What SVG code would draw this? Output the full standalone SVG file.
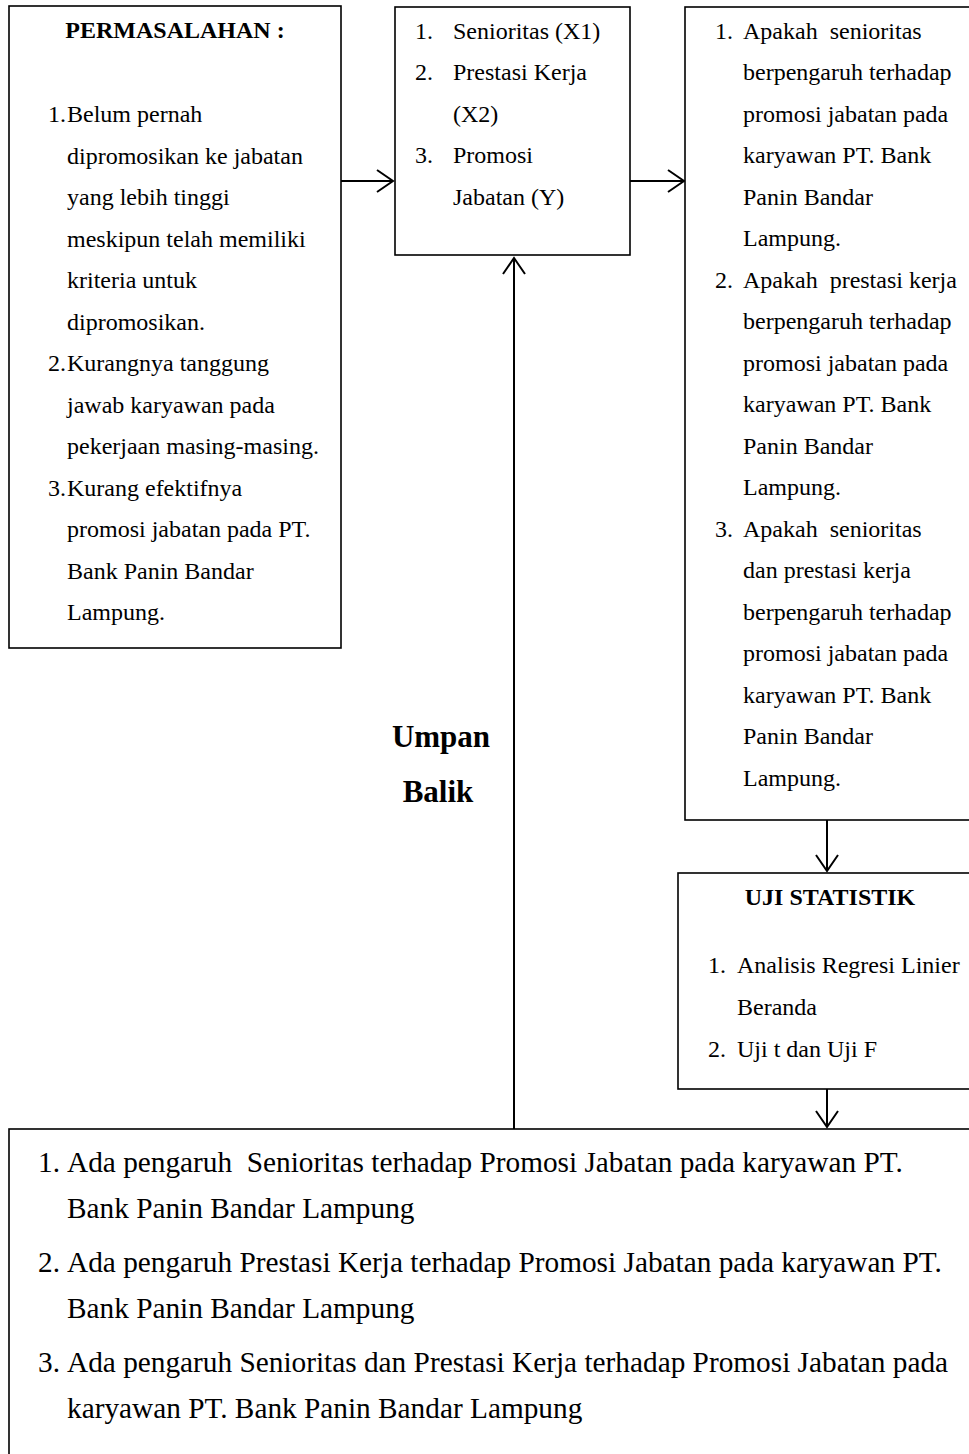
<svg xmlns="http://www.w3.org/2000/svg" width="969" height="1454" viewBox="0 0 969 1454">
<style>
.box{fill:#fff;stroke:#000;stroke-width:1.6}
.t{font-family:"Liberation Serif","Times New Roman",serif;font-size:24px;fill:#000;white-space:pre}
.b{font-family:"Liberation Serif","Times New Roman",serif;font-size:24px;font-weight:bold;fill:#000}
.big{font-family:"Liberation Serif","Times New Roman",serif;font-size:29.3px;fill:#000;white-space:pre}
.ub{font-family:"Liberation Serif","Times New Roman",serif;font-size:31px;font-weight:bold;fill:#000}
.c{stroke:#000;stroke-width:2;fill:none}
</style>
<defs>
<marker id="ah" viewBox="0 0 20 24" refX="18" refY="12" markerWidth="20" markerHeight="24" orient="auto" markerUnits="userSpaceOnUse">
<path d="M2,1 L18,12 L2,23" fill="none" stroke="#000" stroke-width="2"/>
</marker>
</defs>
<rect width="969" height="1454" fill="#fff"/>

<g id="connectors">
<line class="c" x1="341" y1="181" x2="393" y2="181" marker-end="url(#ah)"/>
<line class="c" x1="630" y1="181" x2="684" y2="181" marker-end="url(#ah)"/>
<line class="c" x1="514" y1="1129" x2="514" y2="258" marker-end="url(#ah)"/>
<line class="c" x1="827" y1="820" x2="827" y2="871" marker-end="url(#ah)"/>
<line class="c" x1="827" y1="1089" x2="827" y2="1127" marker-end="url(#ah)"/>
</g>

<g id="permasalahan">
<rect class="box" x="9" y="6" width="332" height="642"/>
<text class="b" x="175" y="38" text-anchor="middle">PERMASALAHAN :</text>
<text class="t" x="48" y="122">1.</text>
<text class="t" x="67" y="122">Belum pernah</text>
<text class="t" x="67" y="163.5">dipromosikan ke jabatan</text>
<text class="t" x="67" y="205">yang lebih tinggi</text>
<text class="t" x="67" y="246.5">meskipun telah memiliki</text>
<text class="t" x="67" y="288">kriteria untuk</text>
<text class="t" x="67" y="329.5">dipromosikan.</text>
<text class="t" x="48" y="371">2.</text>
<text class="t" x="67" y="371">Kurangnya tanggung</text>
<text class="t" x="67" y="412.5">jawab karyawan pada</text>
<text class="t" x="67" y="454">pekerjaan masing-masing.</text>
<text class="t" x="48" y="495.5">3.</text>
<text class="t" x="67" y="495.5">Kurang efektifnya</text>
<text class="t" x="67" y="537">promosi jabatan pada PT.</text>
<text class="t" x="67" y="578.5">Bank Panin Bandar</text>
<text class="t" x="67" y="620">Lampung.</text>
</g>

<g id="variabel">
<rect class="box" x="395" y="7" width="235" height="248"/>
<text class="t" x="415" y="38.5">1.</text>
<text class="t" x="453" y="38.5">Senioritas (X1)</text>
<text class="t" x="415" y="80">2.</text>
<text class="t" x="453" y="80">Prestasi Kerja</text>
<text class="t" x="453" y="121.5">(X2)</text>
<text class="t" x="415" y="163">3.</text>
<text class="t" x="453" y="163">Promosi</text>
<text class="t" x="453" y="204.5">Jabatan (Y)</text>
</g>

<g id="rumusan">
<rect class="box" x="685" y="7" width="300" height="813"/>
<text class="t" x="715" y="38.5">1.</text>
<text class="t" x="743" y="38.5">Apakah  senioritas</text>
<text class="t" x="743" y="80">berpengaruh terhadap</text>
<text class="t" x="743" y="121.5">promosi jabatan pada</text>
<text class="t" x="743" y="163">karyawan PT. Bank</text>
<text class="t" x="743" y="204.5">Panin Bandar</text>
<text class="t" x="743" y="246">Lampung.</text>
<text class="t" x="715" y="287.5">2.</text>
<text class="t" x="743" y="287.5">Apakah  prestasi kerja</text>
<text class="t" x="743" y="329">berpengaruh terhadap</text>
<text class="t" x="743" y="370.5">promosi jabatan pada</text>
<text class="t" x="743" y="412">karyawan PT. Bank</text>
<text class="t" x="743" y="453.5">Panin Bandar</text>
<text class="t" x="743" y="495">Lampung.</text>
<text class="t" x="715" y="536.5">3.</text>
<text class="t" x="743" y="536.5">Apakah  senioritas</text>
<text class="t" x="743" y="578">dan prestasi kerja</text>
<text class="t" x="743" y="619.5">berpengaruh terhadap</text>
<text class="t" x="743" y="661">promosi jabatan pada</text>
<text class="t" x="743" y="702.5">karyawan PT. Bank</text>
<text class="t" x="743" y="744">Panin Bandar</text>
<text class="t" x="743" y="785.5">Lampung.</text>
</g>

<g id="umpan-balik">
<text class="ub" x="441" y="747" text-anchor="middle">Umpan</text>
<text class="ub" x="438" y="802" text-anchor="middle">Balik</text>
</g>

<g id="uji-statistik">
<rect class="box" x="678" y="873" width="310" height="216"/>
<text class="b" x="830" y="905" text-anchor="middle">UJI STATISTIK</text>
<text class="t" x="708" y="973">1.</text>
<text class="t" x="737" y="973">Analisis Regresi Linier</text>
<text class="t" x="737" y="1015">Beranda</text>
<text class="t" x="708" y="1057">2.</text>
<text class="t" x="737" y="1057">Uji t dan Uji F</text>
</g>

<g id="hipotesis">
<rect class="box" x="9" y="1129" width="980" height="400"/>
<text class="big" x="38" y="1172">1.</text>
<text class="big" x="67" y="1172">Ada pengaruh  Senioritas terhadap Promosi Jabatan pada karyawan PT.</text>
<text class="big" x="67" y="1218">Bank Panin Bandar Lampung</text>
<text class="big" x="38" y="1272">2.</text>
<text class="big" x="67" y="1272">Ada pengaruh Prestasi Kerja terhadap Promosi Jabatan pada karyawan PT.</text>
<text class="big" x="67" y="1318">Bank Panin Bandar Lampung</text>
<text class="big" x="38" y="1372">3.</text>
<text class="big" x="67" y="1372">Ada pengaruh Senioritas dan Prestasi Kerja terhadap Promosi Jabatan pada</text>
<text class="big" x="67" y="1418">karyawan PT. Bank Panin Bandar Lampung</text>
</g>
</svg>
